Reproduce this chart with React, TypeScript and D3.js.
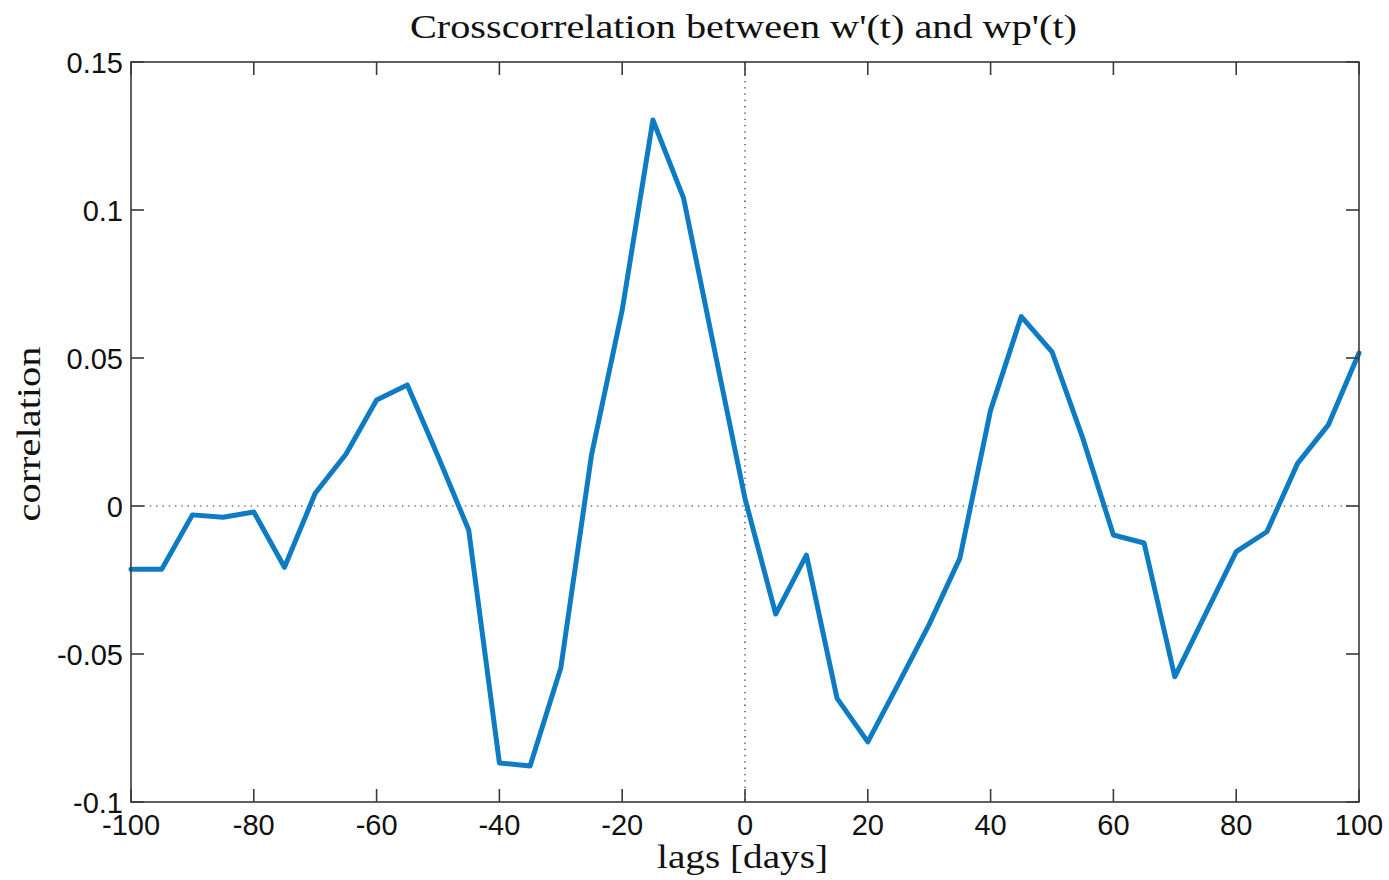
import React from "react";
import * as d3 from "d3";

const lags: number[] = [-100, -95, -90, -85, -80, -75, -70, -65, -60, -55, -50, -45, -40, -35, -30, -25, -20, -15, -10, -5, 0, 5, 10, 15, 20, 25, 30, 35, 40, 45, 50, 55, 60, 65, 70, 75, 80, 85, 90, 95, 100];
const correlation: number[] = [
  -0.0214, -0.0214, -0.003, -0.0038, -0.002, -0.0207, 0.0043, 0.0175, 0.0358, 0.0409,
  0.0168, -0.0081, -0.0868, -0.0878, -0.0547, 0.0172, 0.0662, 0.1304, 0.104, 0.053,
  0.0025, -0.0365, -0.0166, -0.065, -0.0797, -0.06, -0.04, -0.0176, 0.0324, 0.064,
  0.0521, 0.023, -0.0098, -0.0125, -0.0577, -0.0365, -0.0154, -0.0087, 0.0144, 0.0274, 0.0517,
];
const xTicks: number[] = [-100, -80, -60, -40, -20, 0, 20, 40, 60, 80, 100];
const yTicks: number[] = [-0.1, -0.05, 0, 0.05, 0.1, 0.15];
const yTickLabels: string[] = ["-0.1", "-0.05", "0", "0.05", "0.1", "0.15"];
const title = "Crosscorrelation between w'(t) and wp'(t)";
const xLabel = "lags [days]";
const yLabel = "correlation";

export default function App() {
  const W = 1389, H = 880;
  const L = 131, R = 1359, T = 62, B = 802;
  const x = d3.scaleLinear().domain([-100, 100]).range([L, R]);
  const y = d3.scaleLinear().domain([-0.1, 0.15]).range([B, T]);
  const line = d3.line<number>().x((_, i) => x(lags[i])).y((d) => y(d));
  const tickLen = 13;
  const axisColor = "#3a3a3a";
  const sans = "'Liberation Sans', Arial, sans-serif";
  const serif = "'Liberation Serif', 'Times New Roman', serif";

  return (
    <svg width={W} height={H} style={{ position: "absolute", left: 0, top: 0, background: "#fff" }}>
      <rect x={0} y={0} width={W} height={H} fill="#fff" />
      {/* zero reference lines */}
      <line x1={L} x2={R} y1={y(0)} y2={y(0)} stroke="#222" strokeWidth={1.2} strokeDasharray="1.3,5" />
      <line x1={x(0)} x2={x(0)} y1={T} y2={B} stroke="#222" strokeWidth={1.2} strokeDasharray="1.3,5" />
      {/* data line */}
      <path d={line(correlation) || ""} fill="none" stroke="#0E7CC2" strokeWidth={5} strokeLinejoin="round" strokeLinecap="round" />
      {/* axes box */}
      <rect x={L} y={T} width={R - L} height={B - T} fill="none" stroke={axisColor} strokeWidth={1.6} />
      {/* x ticks */}
      {xTicks.map((t) => (
        <g key={"x" + t}>
          <line x1={x(t)} x2={x(t)} y1={B} y2={B - tickLen} stroke={axisColor} strokeWidth={1.6} />
          <line x1={x(t)} x2={x(t)} y1={T} y2={T + tickLen} stroke={axisColor} strokeWidth={1.6} />
          <text x={x(t)} y={835} textAnchor="middle" fontFamily={sans} fontSize={29} fill="#111">
            {String(t)}
          </text>
        </g>
      ))}
      {/* y ticks */}
      {yTicks.map((t, i) => (
        <g key={"y" + t}>
          <line x1={L} x2={L + tickLen} y1={y(t)} y2={y(t)} stroke={axisColor} strokeWidth={1.6} />
          <line x1={R} x2={R - tickLen} y1={y(t)} y2={y(t)} stroke={axisColor} strokeWidth={1.6} />
          <text x={123} y={y(t) + 10.5} textAnchor="end" fontFamily={sans} fontSize={29} fill="#111">
            {yTickLabels[i]}
          </text>
        </g>
      ))}
      {/* title */}
      <text x={743.5} y={38} textAnchor="middle" fontFamily={serif} fontSize={34} fill="#111" textLength={667} lengthAdjust="spacingAndGlyphs">
        {title}
      </text>
      {/* x label */}
      <text x={742.5} y={868} textAnchor="middle" fontFamily={serif} fontSize={34} fill="#111" textLength={171} lengthAdjust="spacingAndGlyphs">
        {xLabel}
      </text>
      {/* y label */}
      <text transform={`translate(40, ${(T + B) / 2 + 2}) rotate(-90)`} textAnchor="middle" fontFamily={serif} fontSize={34} fill="#111" textLength={175} lengthAdjust="spacingAndGlyphs">
        {yLabel}
      </text>
    </svg>
  );
}
